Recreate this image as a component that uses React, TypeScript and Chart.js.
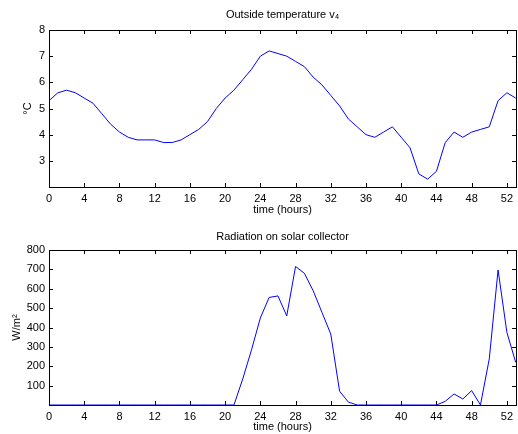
import React, { useEffect, useRef } from 'react';
import { Chart, registerables } from 'chart.js';
Chart.register(...registerables);

const hours = [0,1,2,3,4,5,6,7,8,9,10,11,12,13,14,15,16,17,18,19,20,21,22,23,24,25,26,27,28,29,30,31,32,33,34,35,36,37,38,39,40,41,42,43,44,45,46,47,48,49,50,51,52,53];
const temperature = [5.3,5.6,5.7,5.6,5.4,5.2,4.8,4.4,4.1,3.9,3.8,3.8,3.8,3.7,3.7,3.8,4.0,4.2,4.5,5.0,5.4,5.7,6.1,6.5,7.0,7.2,7.1,7.0,6.8,6.6,6.2,5.9,5.5,5.1,4.6,4.3,4.0,3.9,4.1,4.3,3.9,3.5,2.5,2.3,2.6,3.7,4.1,3.9,4.1,4.2,4.3,5.3,5.6,5.4];
const radiation = [0,0,0,0,0,0,0,0,0,0,0,0,0,0,0,0,0,0,0,0,0,0,134,285,449,555,563,460,715,680,590,478,366,71,15,0,0,0,0,0,0,0,0,0,0,19,57,31,74,0,238,697,375,220];
const xTicks = [0,4,8,12,16,20,24,28,32,36,40,44,48,52];
const tempTicks = [3,4,5,6,7,8];
const radTicks = [100,200,300,400,500,600,700,800];

const FONT = '"Liberation Sans", Arial, Helvetica, sans-serif';

function boxPlugin(titleText: string, titleY: number) {
  return {
    id: 'matlabBox',
    beforeDatasetsDraw(chart: any) {
      const { ctx, chartArea: a, scales } = chart;
      ctx.save();
      ctx.strokeStyle = '#000';
      ctx.lineWidth = 1;
      ctx.strokeRect(Math.round(a.left) + 0.5, Math.round(a.top) + 0.5, Math.round(a.right - a.left), Math.round(a.bottom - a.top));
      ctx.beginPath();
      const L = 4;
      scales.x.ticks.forEach((t: any) => {
        const px = Math.round(scales.x.getPixelForValue(t.value)) + 0.5;
        ctx.moveTo(px, a.bottom); ctx.lineTo(px, a.bottom - L);
        ctx.moveTo(px, a.top); ctx.lineTo(px, a.top + L);
      });
      scales.y.ticks.forEach((t: any) => {
        const py = Math.round(scales.y.getPixelForValue(t.value)) + 0.5;
        ctx.moveTo(a.left, py); ctx.lineTo(a.left + L, py);
        ctx.moveTo(a.right, py); ctx.lineTo(a.right - L, py);
      });
      ctx.stroke();
      ctx.restore();
    },
    afterDraw(chart: any) {
      const { ctx, chartArea: a } = chart;
      ctx.save();
      ctx.fillStyle = '#000';
      ctx.font = `11px ${FONT}`;
      ctx.textAlign = 'center';
      ctx.textBaseline = 'middle';
      ctx.fillText(titleText, (a.left + a.right) / 2, titleY);
      ctx.restore();
    },
  };
}

function makeConfig(values: number[], yMin: number, yMax: number, yTicks: number[], yLabel: string, title: string, titleY: number, topPad: number, xHeight: number, yTitlePad: number, xTitlePad: number): any {
  return {
    type: 'line',
    data: {
      labels: hours,
      datasets: [{
        data: hours.map((h, i) => ({ x: h, y: values[i] })),
        borderColor: '#0000ff',
        borderWidth: 1,
        pointRadius: 0,
        tension: 0,
        fill: false,
        clip: 3,
      }],
    },
    options: {
      animation: false,
      responsive: false,
      layout: { padding: { top: topPad, bottom: 0, left: 0, right: 0 } },
      plugins: { legend: { display: false }, tooltip: { enabled: false }, title: { display: false } },
      scales: {
        x: {
          type: 'linear',
          min: 0,
          max: 53.05,
          afterBuildTicks: (s: any) => { s.ticks = xTicks.map((v) => ({ value: v })); },
          afterFit: (s: any) => { s.height = xHeight; },
          grid: { display: false, drawTicks: false },
          border: { display: false },
          ticks: { padding: 5, color: '#000', font: { family: FONT, size: 11 }, maxRotation: 0, autoSkip: false },
          title: { display: true, text: 'time (hours)', color: '#000', font: { family: FONT, size: 11 }, padding: { top: 0, bottom: xTitlePad } },
        },
        y: {
          type: 'linear',
          min: yMin,
          max: yMax,
          afterBuildTicks: (s: any) => { s.ticks = yTicks.map((v) => ({ value: v })); },
          afterFit: (s: any) => { s.width = 49; },
          grid: { display: false, drawTicks: false },
          border: { display: false },
          ticks: { padding: 4, color: '#000', font: { family: FONT, size: 11 }, autoSkip: false },
          title: { display: true, text: yLabel, color: '#000', font: { family: FONT, size: 11 }, padding: { top: yTitlePad, bottom: 0 } },
        },
      },
    },
    plugins: [boxPlugin(title, titleY)],
  };
}

function Plot(props: { cfg: () => any; top: number }) {
  const ref = useRef<HTMLCanvasElement>(null);
  useEffect(() => {
    const chart = new Chart(ref.current as HTMLCanvasElement, props.cfg());
    return () => chart.destroy();
  }, []);
  return (
    <div style={{ position: 'absolute', left: 0, top: props.top, width: 518, height: 217 }}>
      <canvas ref={ref} width={518} height={217} style={{ display: 'block', width: 518, height: 217 }} />
    </div>
  );
}

export default function App() {
  return (
    <div style={{ position: 'absolute', left: 0, top: 0, width: 518, height: 434, background: '#fff' }}>
      <Plot top={0} cfg={() => makeConfig(temperature, 2, 8, tempTicks, '°C', 'Outside temperature v₄', 15, 30, 30, 21, 0)} />
      <Plot top={217} cfg={() => makeConfig(radiation, 0, 800, radTicks, 'W/m²', 'Radiation on solar collector', 19.5, 33, 29, 10, 0)} />
    </div>
  );
}
